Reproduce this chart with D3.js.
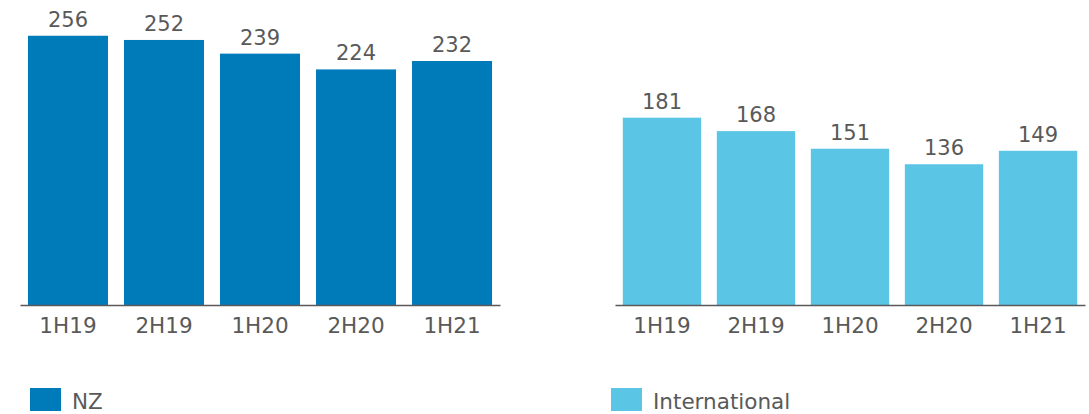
<!DOCTYPE html>
<html>
<head>
  <meta charset="utf-8">
  <script src="https://d3js.org/d3.v7.min.js"></script>
  <style>
    body { margin: 0; background: #fff; }
    text { font-family: Verdana, "DejaVu Sans", sans-serif; fill: #595959; }
  </style>
</head>
<body>
<div id="vis"></div>
<script>
  // data
  var periods = ["1H19", "2H19", "1H20", "2H20", "1H21"];
  var nzValues = [256, 252, 239, 224, 232];
  var intlValues = [181, 168, 151, 136, 149];
  var seriesNames = ["NZ", "International"];
  var colours = ["#007bba", "#5bc5e6"];

  var width = 1089, height = 414, baseY = 305;

  var svg = d3.select("#vis").append("svg")
      .attr("width", width)
      .attr("height", height);

  // one panel per series, each with its own scale
  var panels = [
    { name: seriesNames[0], values: nzValues, colour: colours[0], x0: 20, x1: 500, yMax: 290, legendX: 30 },
    { name: seriesNames[1], values: intlValues, colour: colours[1], x0: 615, x1: 1085, yMax: 294.7, legendX: 611 }
  ];

  panels.forEach(function(p) {
    var x = d3.scaleBand()
        .domain(periods)
        .range([p.x0, p.x1])
        .paddingInner(0.1667)
        .paddingOuter(0.083);

    var y = d3.scaleLinear()
        .domain([0, p.yMax])
        .range([baseY, 0]);

    var data = periods.map(function(d, i) { return { period: d, value: p.values[i] }; });

    var g = svg.append("g");

    g.selectAll("rect.bar")
      .data(data)
      .enter().append("rect")
        .attr("class", "bar")
        .attr("x", function(d) { return x(d.period); })
        .attr("width", x.bandwidth())
        .attr("y", function(d) { return y(d.value); })
        .attr("height", function(d) { return baseY - y(d.value); })
        .attr("fill", p.colour);

    // value labels
    g.selectAll("text.val")
      .data(data)
      .enter().append("text")
        .attr("class", "val")
        .attr("x", function(d) { return x(d.period) + x.bandwidth() / 2; })
        .attr("y", function(d) { return y(d.value) - 9; })
        .attr("text-anchor", "middle")
        .style("font-size", "21px")
        .text(function(d) { return d.value; });

    // x axis
    var axis = g.append("g")
        .attr("transform", "translate(0," + baseY + ")")
        .call(d3.axisBottom(x).tickSize(0).tickPadding(13));
    axis.select(".domain")
        .attr("stroke", "#595959")
        .attr("stroke-width", 1.5);
    axis.selectAll("text")
        .style("font-size", "21.5px")
        .attr("fill", "#595959");

    // legend
    g.append("rect")
        .attr("x", p.legendX)
        .attr("y", 388)
        .attr("width", 31)
        .attr("height", 23)
        .attr("fill", p.colour);
    g.append("text")
        .attr("x", p.legendX + 42)
        .attr("y", 409)
        .style("font-size", "21.5px")
        .text(p.name);
  });
</script>
</body>
</html>
